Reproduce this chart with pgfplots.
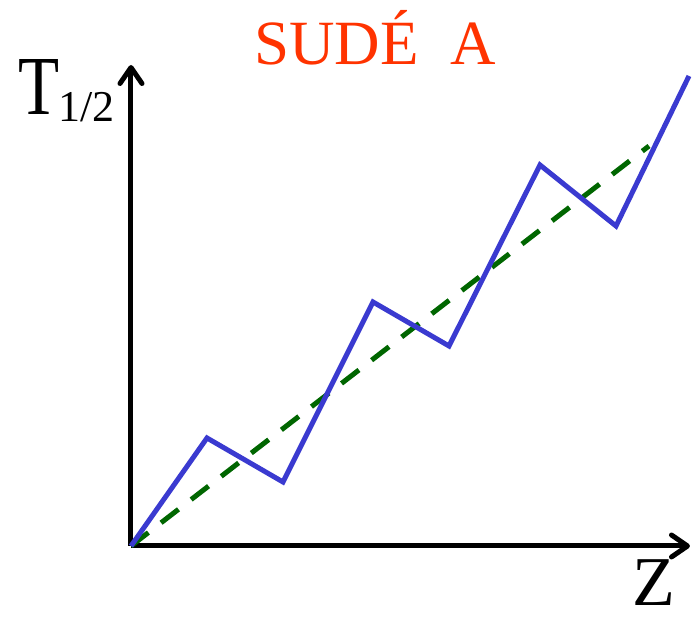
\documentclass[border=0pt]{standalone}
\usepackage{fontspec}
\setmainfont{Liberation Serif}
\usepackage{pgfplots}
\pgfplotsset{compat=1.18}
\usetikzlibrary{arrows.meta}
\definecolor{titlered}{RGB}{255,51,0}
\definecolor{zigblue}{RGB}{58,58,208}
\definecolor{trendgreen}{RGB}{0,102,0}
\begin{document}
\begin{tikzpicture}
\begin{axis}[
  x=0.5pt, y=0.5pt,
  xmin=0, xmax=559, ymin=0, ymax=481,
  axis lines=left,
  axis line style={line width=2.5pt, -{Straight Barb[round, length=8pt, width=11pt]}},
  xtick=\empty, ytick=\empty,
  clip=false,
]
  % linear trend
  \addplot[trendgreen, line width=2.5pt, dash pattern=on 11pt off 8pt]
    coordinates {(0,0) (518,400)};
  % odd-even staggering
  \addplot[zigblue, line width=2.5pt, line join=miter]
    coordinates {(0,0) (76,108) (152,64) (242,244) (318,200) (409,381) (485,320) (558,470)};
  \node[titlered, font=\fontsize{31.5}{31.5}\selectfont, anchor=base] at (axis cs:244,481) {SUDÉ\ \ A};
  \node[font=\fontsize{42}{42}\selectfont, anchor=base west, inner sep=0pt] at (axis cs:-113,431) {\scalebox{0.8}[1]{T}};
  \node[font=\fontsize{22}{22}\selectfont, anchor=base west, inner sep=0pt] at (axis cs:-73,424) {1/2};
  \node[font=\fontsize{35}{35}\selectfont, anchor=base, inner sep=0pt] at (axis cs:523,-60) {Z};
  \path[use as bounding box] (axis cs:-131,-74) rectangle (axis cs:562,546);
\end{axis}
\end{tikzpicture}
\end{document}
